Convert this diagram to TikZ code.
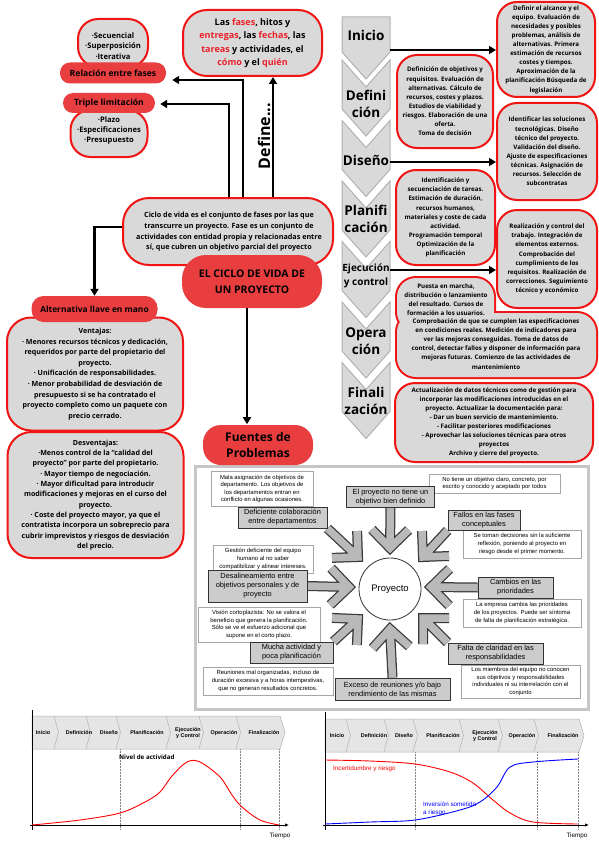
\documentclass[tikz,border=0pt]{standalone}
\usepackage{fontspec}
\setmainfont{Open Sans}
\newfontfamily\arial{Liberation Sans}
\usetikzlibrary{arrows.meta,calc}
\newcommand\fs[2]{\fontsize{#1}{#2}\selectfont}
\definecolor{cred}{RGB}{233,62,64}
\definecolor{cbord}{RGB}{240,20,20}
\definecolor{cgray}{RGB}{217,217,217}
\definecolor{wred}{RGB}{235,30,40}
\pgfdeclarelayer{back}
\pgfdeclarelayer{arrl}
\pgfsetlayers{back,arrl,main}
\tikzset{
  bubble/.style={fill=cgray, draw=cbord, line width=2, rounded corners=18, align=center, inner sep=0},
  redbox/.style={fill=cred, rounded corners=10, align=center, inner sep=0},
  arr/.style={line width=2.2, -{Triangle[length=7pt,width=8pt]}},
  chevron/.style={fill=cgray, draw=gray!60, line width=1},
  txt/.style={align=center, inner sep=0},
  desc/.style={draw=gray!70, fill=white, line width=0.6, inner sep=0, align=center, font=\arial\mdseries\fs{5.9}{7.6}},
  lab/.style={draw=gray!40!black, fill=gray!40, line width=0.8, inner sep=0, align=center, font=\arial\mdseries\fs{7.4}{9}},
  bigarr/.style={preaction={draw=gray!45!black, line width=10, line join=miter}, draw=gray!55, line width=7.5, line join=miter},
  band/.style={fill=gray!20, draw=gray!60, line width=0.5},
  bandlab/.style={align=center, inner sep=0, font=\arial\bfseries\fs{5.4}{6.2}},
  dots/.style={densely dotted, gray, line width=0.5}
}
\newcommand\bigarrow[2]{\draw[bigarr] ($(#2)!26pt!45:(#1)$) -- (#2) -- ($(#2)!26pt!-45:(#1)$) (#1) -- (#2);}
\newcommand\chevr[1]{\draw[chevron] (342,#1) -- (366,#1+27) -- (390,#1) -- (390,#1+49) -- (366,#1+76) -- (342,#1+49) -- cycle;}
\begin{document}
\begin{tikzpicture}[x=1pt,y=-1pt,font=\bfseries]
\useasboundingbox (0,0) rectangle (599,848);
\begin{pgfonlayer}{back}
\fill[white] (0,0) rectangle (599,848);
\draw[draw=gray!45, fill=white, line width=3] (195,466) rectangle (588,709);
\end{pgfonlayer}

% ---------- top left ----------
\node[bubble, minimum width=70, minimum height=48, rounded corners=20] (seq) at (113,43) {};
\node[txt, font=\bfseries\fs{7.6}{10.3}] (seqt) at (113,46) {·Secuencial\\·Superposición\\·Iterativa};
\node[redbox, minimum width=106, minimum height=21, font=\bfseries\fs{8.6}{10}] (rel) at (113,73) {Relación entre fases};
\node[bubble, minimum width=77, minimum height=47, rounded corners=20] (pla) at (109,133.5) {};
\node[txt, font=\bfseries\fs{7.6}{10.3}] (plat) at (109,130.5) {·Plazo\\·Especificaciones\\·Presupuesto};
\node[redbox, minimum width=92, minimum height=20, font=\bfseries\fs{8.6}{10}] (tri) at (109,103) {Triple limitación};

% ---------- top center ----------
\node[bubble, minimum width=139, minimum height=66, rounded corners=24, font=\bfseries\fs{9}{13.4}] (def) at (252.5,43)
 {Las \textcolor{wred}{fases}, hitos y\\\textcolor{wred}{entregas}, las \textcolor{wred}{fechas}, las\\\textcolor{wred}{tareas} y actividades, el\\\textcolor{wred}{cómo} y el \textcolor{wred}{quién}};

\node[bubble, minimum width=210, minimum height=67, rounded corners=26] (cic) at (228,231.5) {};
\node[txt, font=\bfseries\fs{7.2}{10.6}] (cict) at (229,232)
 {Ciclo de vida es el conjunto de fases por las que\\transcurre un proyecto. Fase es un conjunto de\\actividades con entidad propia y relacionadas entre\\sí, que cubren un objetivo parcial del proyecto};
\node[redbox, minimum width=140, minimum height=53, rounded corners=24, font=\bfseries\fs{10.5}{16}] (ecv) at (252,281.5) {EL CICLO DE VIDA DE\\UN PROYECTO};

\draw[arr] ($(cic.north)+(15,0)$) |- ($(rel.east)+(6,7)$);
\draw[arr] ($(cic.north)+(1,0)$) |- ($(tri.east)+(5,1)$);
\coordinate (d0) at ($(cic.north)+(45,0)$);
\draw[arr] (d0) -- (d0 |- def.south);
\node[rotate=90, font=\bfseries\fs{16}{16}, inner sep=0] (dfn) at (264,136) {Define...};

% ---------- left column ----------
\node[bubble, minimum width=176, minimum height=113, rounded corners=24, font=\bfseries\fs{7.1}{10.6}] (ven) at (95,374)
 {Ventajas:\\· Menores recursos técnicos y dedicación,\\requeridos por parte del propietario del\\proyecto.\\· Unificación de responsabilidades.\\· Menor probabilidad de desviación de\\presupuesto si se ha contratado el\\proyecto completo como un paquete con\\precio cerrado.};
\node[bubble, minimum width=176, minimum height=126, rounded corners=24, font=\bfseries\fs{7.1}{10.3}] (des) at (95.5,495)
 {Desventajas:\\·Menos control de la “calidad del\\proyecto” por parte del propietario.\\· Mayor tiempo de negociación.\\· Mayor dificultad para introducir\\modificaciones y mejoras en el curso del\\proyecto.\\· Coste del proyecto mayor, ya que el\\contratista incorpora un sobreprecio para\\cubrir imprevistos y riesgos de desviación\\del precio.};
\node[redbox, minimum width=126, minimum height=26, rounded corners=12, font=\bfseries\fs{8.4}{10}] (alt) at (94.5,309) {Alternativa llave en mano};
\draw[arr] ($(cic.west)+(0,-4.5)$) -| (alt.north);

% ---------- Fuentes ----------
\draw[arr] ($(ecv.south)+(-5,0)$) -- ++(0,116);
\node[redbox, minimum width=110, minimum height=40, rounded corners=18, font=\bfseries\fs{12}{15.5}] (fue) at (258,445) {Fuentes de\\Problemas};

% ---------- chevrons ----------
\draw[chevron] (342,17) -- (390,17) -- (390,52) -- (366,79) -- (342,52) -- cycle;
\chevr{60}
\chevr{120.5}
\chevr{181}
\chevr{241.5}
\chevr{302}
\chevr{362.5}
\node[txt, font=\bfseries\fs{13.5}{17}] (chI) at (366,35) {Inicio};
\node[txt, font=\bfseries\fs{13.5}{17}] (chDef) at (366,103.5) {Defini\\ción};
\node[txt, font=\bfseries\fs{13.5}{17}] (chDis) at (366,160) {Diseño};
\node[txt, font=\bfseries\fs{13.5}{17}] (chPla) at (366,218.5) {Planifi\\cación};
\node[txt, font=\bfseries\fs{10}{14}] (chEje) at (366,276) {Ejecución\\y control};
\node[txt, font=\bfseries\fs{13.5}{17}] (chOpe) at (366,341.5) {Opera\\ción};
\node[txt, font=\bfseries\fs{13.5}{17}] (chFin) at (366,400.5) {Finali\\zación};

% ---------- right boxes ----------
\tikzset{pbox/.style={bubble, rounded corners=20, font=\bfseries\fs{6.2}{9.1}}}
\node[pbox, minimum width=98, minimum height=95] (A) at (546,49.5)
 {Definir el alcance y el\\equipo. Evaluación de\\necesidades y posibles\\problemas, análisis de\\alternativas. Primera\\estimación de recursos\\costes y tiempos.\\Aproximación de la\\planificación Búsqueda de\\legislación};
\node[pbox, minimum width=96, minimum height=93] (B) at (445,101.5)
 {Definición de objetivos y\\requisitos. Evaluación de\\alternativas. Cálculo de\\recursos, costes y plazos.\\Estudios de viabilidad y\\riesgos. Elaboración de una\\oferta.\\Toma de decisión};
\node[pbox, minimum width=100, minimum height=97] (C) at (547,151.5)
 {Identificar las soluciones\\tecnológicas. Diseño\\técnico del proyecto.\\Validación del diseño.\\Ajuste de especificaciones\\técnicas. Asignación de\\recursos. Selección de\\subcontratas};
\node[pbox, minimum width=99, minimum height=95] (D) at (445.5,217.5)
 {Identificación y\\secuenciación de tareas.\\Estimación de duración,\\recursos humanos,\\materiales y coste de cada\\actividad.\\Programación temporal\\Optimización de la\\planificación};
\node[pbox, minimum width=100, minimum height=98] (E) at (547,259)
 {Realización y control del\\trabajo. Integración de\\elementos externos.\\Comprobación del\\cumplimiento de los\\requisitos. Realización de\\correcciones. Seguimiento\\técnico y económico};
\draw[cbord, line width=4, rounded corners=19] (397,278) rectangle (494,331) (397,313) rectangle (596,377);
\fill[cgray, rounded corners=19] (397,278) rectangle (494,331) (397,313) rectangle (596,377);
\node[txt, font=\bfseries\fs{6.2}{9.1}] (F1) at (446,299.5) {Puesta en marcha,\\distribución o lanzamiento\\del resultado. Cursos de\\formación a los usuarios.};
\node[txt, font=\bfseries\fs{6.2}{9.1}] (F2) at (496,344) {Comprobación de que se cumplen las especificaciones\\en condiciones reales. Medición de indicadores para\\ver las mejoras conseguidas. Toma de datos de\\control, detectar fallos y disponer de información para\\mejoras futuras. Comienzo de las actividades de\\mantenimiento};
\node[pbox, minimum width=198, minimum height=79] (G) at (494,422.5)
 {Actualización de datos técnicos como de gestión para\\incorporar las modificaciones introducidas en el\\proyecto. Actualizar la documentación para:\\- Dar un buen servicio de mantenimiento.\\- Facilitar posteriores modificaciones\\- Aprovechar las soluciones técnicas para otros\\proyectos\\Archivo y cierre del proyecto.};

\coordinate (pI) at (390,50);
\coordinate (pD) at (390,162);
\coordinate (pE) at (390,270);
\draw[arr] (pI) -- (pI -| A.west);
\draw[arr] (pD) -- (pD -| C.west);
\draw[arr] (pE) -- (pE -| E.west);

% ---------- problems figure ----------
\node[desc, minimum width=102, minimum height=35] (d1) at (262,489) {Mala asignación de objetivos de\\departamento. Los objetivos de\\los departamentos entran en\\conflicto en algunas ocasiones.};
\node[desc, minimum width=131, minimum height=19] (d2) at (494.5,483.5) {No tiene un objetivo claro, concreto, por\\escrito y conocido y aceptado por todos};
\node[desc, minimum width=118, minimum height=28] (d3) at (522,544) {Se toman decisiones sin la suficiente\\reflexión, poniendo al proyecto en\\riesgo desde el primer momento.};
\node[desc, minimum width=100, minimum height=28] (d4) at (263,559) {Gestión deficiente del equipo\\humano al no saber\\compatibilizar y alinear intereses.};
\node[desc, minimum width=122, minimum height=35] (d5) at (259,624.5) {Visión cortoplazista: No se valora el\\beneficio que genera la planificación.\\Sólo se ve el esfuerzo adicional que\\supone en el corto plazo.};
\node[desc, minimum width=118, minimum height=28] (d6) at (522,613) {La empresa cambia las prioridades\\de los proyectos. Puede ser síntoma\\de falta de planificación estratégica.};
\node[desc, minimum width=130, minimum height=28] (d7) at (268,681) {Reuniones mal organizadas, incluso de\\duración excesiva y a horas intempestivas,\\que no generan resultados concretos.};
\node[desc, minimum width=119, minimum height=33] (d8) at (520.5,681.5) {Los miembros del equipo no conocen\\sus objetivos y responsabilidades\\individuales ni su interrelación con el\\conjunto};

\node[lab, minimum width=88, minimum height=21] (l1) at (390.5,497) {El proyecto no tiene un\\objetivo bien definido};
\node[lab, minimum width=89, minimum height=21] (l2) at (282.5,517.5) {Deficiente colaboración\\entre departamentos};
\node[lab, minimum width=99, minimum height=32] (l3) at (257.5,586) {Desalineamiento entre\\objetivos personales y de\\proyecto};
\node[lab, minimum width=83, minimum height=21] (l4) at (291.5,652.5) {Mucha actividad y\\poca planificación};
\node[lab, minimum width=115, minimum height=22] (l5) at (392.5,689) {Exceso de reuniones y/o bajo\\rendimiento de las mismas};
\node[lab, minimum width=95, minimum height=21] (l6) at (495.5,653.5) {Falta de claridad en las\\responsabilidades};
\node[lab, minimum width=75, minimum height=21] (l7) at (515.5,587.5) {Cambios en las\\prioridades};
\node[lab, minimum width=72, minimum height=20] (l8) at (484,520) {Fallos en las fases\\conceptuales};
\node[draw=gray!40!black, fill=white, line width=0.8, circle, minimum size=62, inner sep=0, font=\arial\mdseries\fs{9.5}{11}] (pro) at (390,589) {Proyecto};

\coordinate (t1) at (390,548);
\coordinate (t2) at (358,557);
\coordinate (t3) at (349,587);
\coordinate (t4) at (358,619);
\coordinate (t5) at (390,629);
\coordinate (t6) at (423,618);
\coordinate (t7) at (431,587);
\coordinate (t8) at (423,557);
\begin{pgfonlayer}{arrl}
\bigarrow{l1.south}{t1}
\bigarrow{l2.south east}{t2}
\bigarrow{l3.east}{t3}
\bigarrow{l4.north east}{t4}
\bigarrow{l5.north}{t5}
\bigarrow{l6.north west}{t6}
\bigarrow{l7.west}{t7}
\bigarrow{l8.south west}{t8}
\end{pgfonlayer}

% ---------- left chart ----------
\draw[band] (32,716) -- (280,716) -- (285,732.5) -- (280,749) -- (32,749) -- cycle;
\foreach \x in {54,86,116,166,199,236} \draw[gray!60, line width=0.5] (\x,716) -- (\x+4.5,732.5) -- (\x,749);
\node[bandlab] (a1) at (43,733) {Inicio};
\node[bandlab] (a2) at (79,733) {Definición};
\node[bandlab] (a3) at (109,733) {Diseño};
\node[bandlab] (a4) at (147,733) {Planificación};
\node[bandlab] (a5) at (188,733) {Ejecución\\y Control};
\node[bandlab] (a6) at (224,733) {Operación};
\node[bandlab] (a7) at (264,733) {Finalización};
\draw[dots] (120,749) -- (120,830);
\draw[dots] (240,749) -- (240,830);
\draw[dots] (279,749) -- (279,830);
\draw[line width=0.9] (32,710) -- (32,830);
\draw[line width=0.9, -{Latex[length=4pt,width=3.5pt]}] (30,825) -- (289,825);
\draw[red, line width=0.9] plot[smooth, tension=0.55] coordinates {(32,825) (80,820) (120,813) (145,802) (160,792) (172,776) (187,762) (200,762) (220,777) (232,795) (242,807) (260,820) (279,825)};
\node[anchor=west, inner sep=0, font=\bfseries\fs{6.2}{7}] (nv) at (119,757) {Nivel de actividad};
\node[inner sep=0, font=\arial\mdseries\fs{6.3}{7}] (tp1) at (280,836) {Tiempo};

% ---------- right chart ----------
\draw[band] (325,719) -- (579,719) -- (584,735.5) -- (579,752) -- (325,752) -- cycle;
\foreach \x in {346,384,413,459,498,534} \draw[gray!60, line width=0.5] (\x,719) -- (\x+4.5,735.5) -- (\x,752);
\node[bandlab] (b1) at (337,736) {Inicio};
\node[bandlab] (b2) at (374,736) {Definición};
\node[bandlab] (b3) at (404,736) {Diseño};
\node[bandlab] (b4) at (443,736) {Planificación};
\node[bandlab] (b5) at (485,736) {Ejecución\\y Control};
\node[bandlab] (b6) at (522,736) {Operación};
\node[bandlab] (b7) at (563,736) {Finalización};
\draw[dots] (415,752) -- (415,830);
\draw[dots] (537,752) -- (537,830);
\draw[dots] (578,752) -- (578,830);
\draw[line width=0.9] (325,712) -- (325,830);
\draw[line width=0.9, -{Latex[length=4pt,width=3.5pt]}] (323,825) -- (589,825);
\draw[red, line width=0.9] plot[smooth, tension=0.55] coordinates {(325,760) (370,761) (415,764) (450,772) (473,783) (493,800) (510,813) (533,822) (578,824)};
\draw[blue, line width=0.9] plot[smooth, tension=0.55] coordinates {(325,824) (370,822) (415,820) (460,810) (480,802) (497,787) (510,767) (533,762) (578,759)};
\node[anchor=west, inner sep=0, text=red, font=\arial\mdseries\fs{6.3}{7}] (inc) at (333,769) {Incertidumbre y riesgo};
\node[anchor=west, inner sep=0, align=left, text=blue, font=\arial\mdseries\fs{6.3}{8}] (inv) at (423,809) {Inversión sometida\\a riesgo};
\node[inner sep=0, font=\arial\mdseries\fs{6.3}{7}] (tp2) at (577,836) {Tiempo};
\end{tikzpicture}
\end{document}
